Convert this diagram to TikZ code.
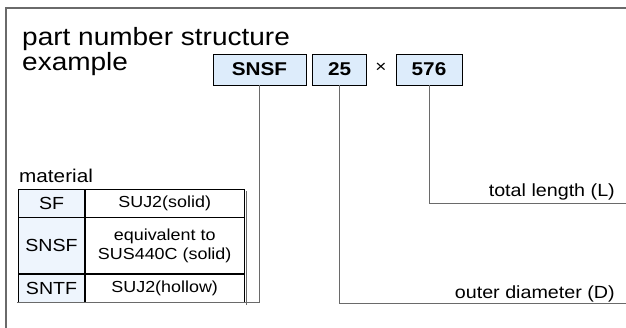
\documentclass[tikz,border=0pt]{standalone}
\usepackage{fontspec}
\setmainfont{Liberation Sans}[FakeStretch=1.12]
\usetikzlibrary{positioning}

\definecolor{boxblue}{HTML}{DDECFB}
\definecolor{cellblue}{HTML}{EEF5FD}
\definecolor{framegray}{HTML}{6A6A6A}

\begin{document}
\begin{tikzpicture}[x=1pt,y=-1pt,
    pnbox/.style={draw,fill=boxblue,line width=0.9pt,inner sep=0pt,
      minimum height=31pt,font=\fontsize{18.5}{20}\selectfont\bfseries},
    keycell/.style={draw,fill=cellblue,line width=0.8pt,inner sep=0pt,
      minimum width=65.7pt,font=\fontsize{17.5}{20}\selectfont},
    valcell/.style={draw,line width=0.8pt,inner sep=0pt,align=center,
      minimum width=159pt,font=\fontsize{16}{19.5}\selectfont},
    leader/.style={draw=framegray,line width=1pt},
    callout/.style={anchor=base east,inner sep=0pt,font=\fontsize{17.6}{20}\selectfont}]
  \useasboundingbox (0,0) rectangle (626,328);
  \def\rowy{189.3}

  \draw[framegray,line width=1.4pt] (6,328) -- (6,8) -- (626,8);

  \node[anchor=base west,inner sep=0pt,font=\fontsize{25}{26}\selectfont]
    (title) at (22,45.5) {part number structure};
  \node[anchor=base west,inner sep=0pt,font=\fontsize{25}{26}\selectfont]
    (example) at (22,70.5) {example};

  \node[pnbox,minimum width=93pt] (series) at (259.5,69.5) {SNSF};
  \node[pnbox,minimum width=54pt] (dia) at (339.7,69.5) {25};
  \node[inner sep=0pt,font=\fontsize{17}{18}\selectfont] (times) at (381,68) {×};
  \node[pnbox,minimum width=66pt] (len) at (429,69.5) {576};

  \node[anchor=base west,inner sep=0pt,font=\fontsize{18.5}{20}\selectfont]
    (mattitle) at (19,183) {material};

  \node[keycell,minimum height=27.4pt,anchor=north west] (sf) at (18.3,\rowy) {SF};
  \node[valcell,minimum height=27.4pt,anchor=west] (sfval) at (sf.east) {SUJ2(solid)};
  \node[keycell,minimum height=55.6pt,anchor=north] (snsf) at (sf.south) {SNSF};
  \node[valcell,minimum height=55.6pt,anchor=west] (snsfval) at (snsf.east)
    {equivalent to\\SUS440C (solid)};
  \node[keycell,minimum height=27.7pt,anchor=north] (sntf) at (snsf.south) {SNTF};
  \node[valcell,minimum height=27.7pt,anchor=west] (sntfval) at (sntf.east) {SUJ2(hollow)};

  \draw[framegray,line width=1pt] ([shift={(2.2,1.5)}]sfval.north east)
    -- ([shift={(2.2,3)}]sntfval.south east);

  \coordinate (matfoot) at (17,303);
  \coordinate (odend) at (626,304);
  \coordinate (lenend) at (626,203.3);

  \draw[leader] (series.south) |- (matfoot);
  \draw[leader] (dia.south) |- (odend);
  \draw[leader] (len.south) |- (lenend);

  \node[callout] (lenlabel) at (615,197) {total length (L)};
  \node[callout] (odlabel) at (615,299) {outer diameter (D)};
\end{tikzpicture}
\end{document}
